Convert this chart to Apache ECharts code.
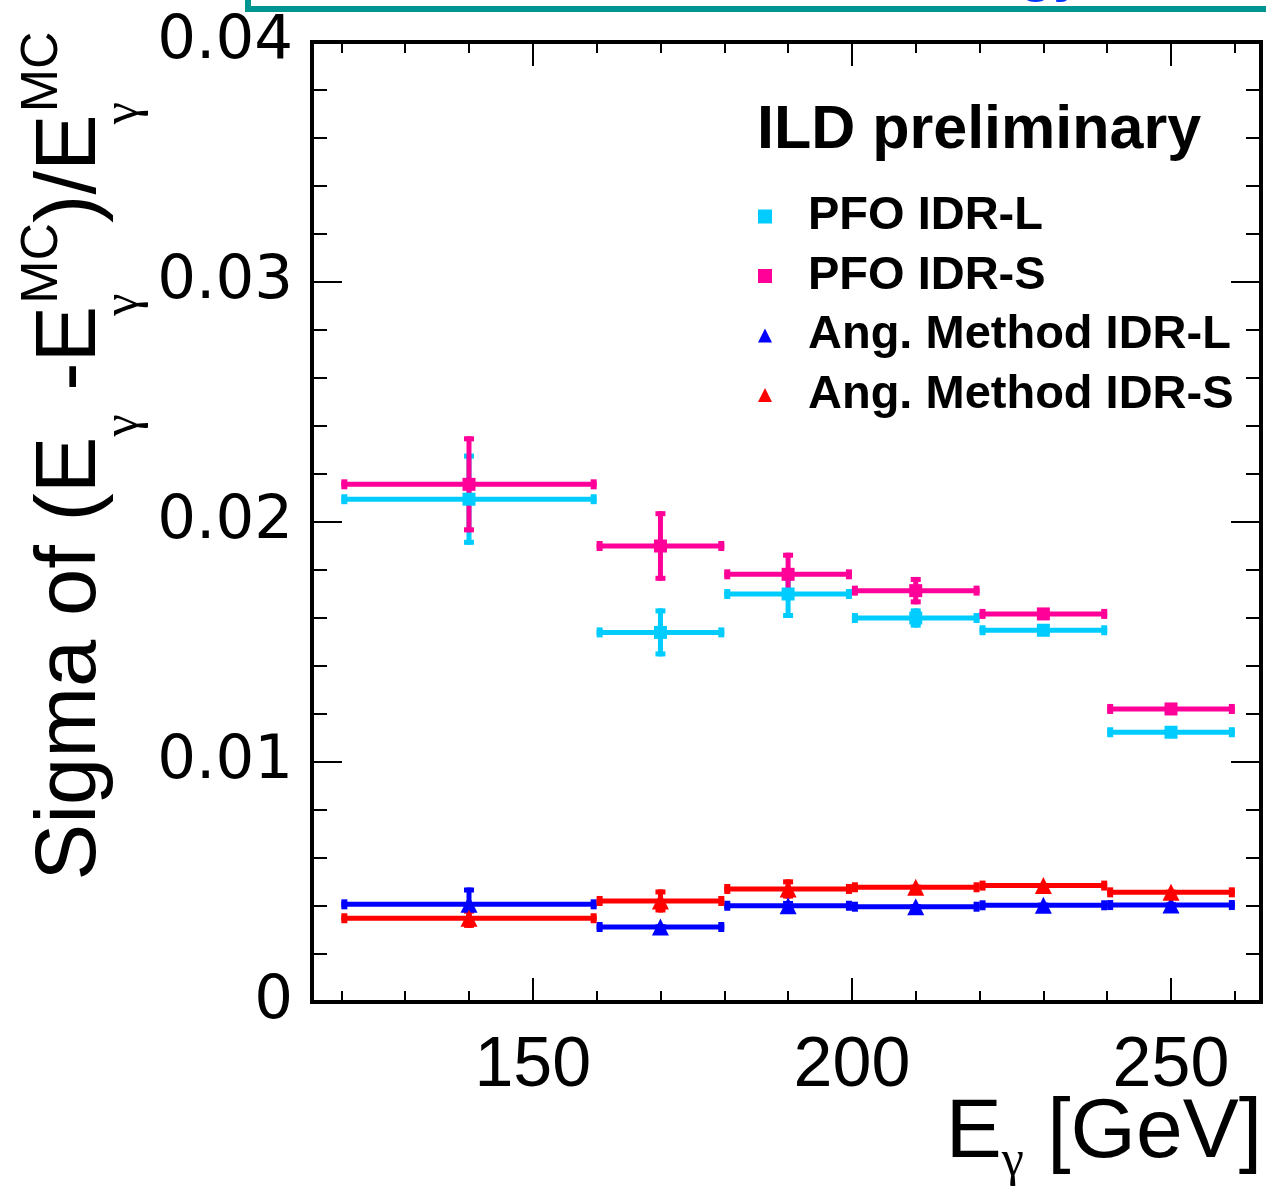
<!DOCTYPE html>
<html>
<head>
<meta charset="utf-8">
<script src="https://cdn.jsdelivr.net/npm/echarts@6/dist/echarts.min.js"></script>
<style>
html,body{margin:0;padding:0;background:#fff;}
#chart{width:1266px;height:1189px;}
</style>
</head>
<body>
<div id="chart"></div>
<script>
// ---- data ----
const binCenters = [140, 170, 190, 210, 230, 250];
const binLow     = [120, 160, 180, 200, 220, 240];
const binHigh    = [160, 180, 200, 220, 240, 260];

const pfoL    = [0.02095, 0.0154, 0.0170, 0.0160, 0.01549, 0.01124];
const pfoLErr = [0.0019, 0.0010, 0.0010, 0.0004, 0.0001, 0.0001];
const pfoS    = [0.02157, 0.0190, 0.01782, 0.01714, 0.01617, 0.01221];
const pfoSErr = [0.0020, 0.00145, 0.0009, 0.00057, 0.0002, 0.0001];
const angL    = [0.00407, 0.003125, 0.00401, 0.00397, 0.00403, 0.00404];
const angLErr = [0.0007, 0.0001, 0.0002, 0.0001, 0.0001, 0.0001];
const angS    = [0.00349, 0.00421, 0.00471, 0.00478, 0.00485, 0.00457];
const angSErr = [0.0004, 0.00048, 0.0004, 0.0001, 0.0001, 0.0001];

const seriesNames = ['PFO IDR-L', 'PFO IDR-S', 'Ang. Method IDR-L', 'Ang. Method IDR-S'];

const xMajorTicks = [150, 200, 250];
const xTickLabels = ['150', '200', '250'];
const xMinorTicks = [120, 130, 140, 150, 160, 170, 180, 190, 200, 210, 220, 230, 240, 250, 260];
const yTickLabels = ['0', '0.01', '0.02', '0.03', '0.04'];

// ---- chart ----
const X_MIN = 115.4, X_MAX = 264.1;
const SANS = 'Liberation Sans, Arial, Helvetica, sans-serif';
const tickStyle = { color: '#000', width: 2 };

function xAx(pos, major) {
  return {
    type: 'value', min: X_MIN, max: X_MAX, position: pos,
    axisLine: { show: false }, splitLine: { show: false },
    axisTick: { show: true, inside: true, length: major ? 24 : 11, lineStyle: tickStyle,
                customValues: major ? xMajorTicks : xMinorTicks },
    axisLabel: (major && pos === 'bottom') ? {
      show: true, customValues: xMajorTicks,
      formatter: v => xTickLabels[xMajorTicks.indexOf(v)] ?? '',
      fontSize: 70, fontFamily: SANS, color: '#000', margin: 30
    } : { show: false }
  };
}
function yAx(pos) {
  return {
    type: 'value', min: 0, max: 0.04, interval: 0.01, position: pos,
    axisLine: { show: false }, splitLine: { show: false }, minorSplitLine: { show: false },
    axisTick: { show: true, inside: true, length: 30, lineStyle: tickStyle },
    minorTick: { show: true, splitNumber: 5, length: 15, lineStyle: tickStyle },
    axisLabel: pos === 'left' ? {
      show: true, fontSize: 61, fontFamily: 'DejaVu Sans, sans-serif', color: '#000', margin: 19,
      formatter: v => yTickLabels[Math.round(v / 0.01)]
    } : { show: false }
  };
}

function errSeries(name, vals, errs, color) {
  return {
    type: 'custom', name: name + ' err', xAxisIndex: 0, yAxisIndex: 0,
    data: binCenters.map((c, i) => [c, vals[i], binLow[i], binHigh[i], errs[i]]),
    encode: { x: [0, 2, 3], y: 1 },
    silent: true,
    renderItem(params, api) {
      const c = api.value(0), v = api.value(1), lo = api.value(2), hi = api.value(3), e = api.value(4);
      const pL = api.coord([lo, v]), pR = api.coord([hi, v]);
      const pT = api.coord([c, v + e]), pB = api.coord([c, v - e]);
      const st = { stroke: color, lineWidth: 5, fill: null };
      const capH = { stroke: color, lineWidth: 6, fill: null };
      return {
        type: 'group',
        children: [
          { type: 'line', shape: { x1: pL[0], y1: pL[1], x2: pR[0], y2: pR[1] }, style: st },
          { type: 'line', shape: { x1: pL[0] + 3, y1: pL[1] - 5, x2: pL[0] + 3, y2: pL[1] + 5 }, style: capH },
          { type: 'line', shape: { x1: pR[0] - 3, y1: pR[1] - 5, x2: pR[0] - 3, y2: pR[1] + 5 }, style: capH },
          { type: 'line', shape: { x1: pT[0], y1: pT[1], x2: pB[0], y2: pB[1] }, style: st },
          { type: 'line', shape: { x1: pT[0] - 5, y1: pT[1] + 2.5, x2: pT[0] + 5, y2: pT[1] + 2.5 }, style: st },
          { type: 'line', shape: { x1: pB[0] - 5, y1: pB[1] - 2.5, x2: pB[0] + 5, y2: pB[1] - 2.5 }, style: st }
        ]
      };
    }
  };
}
function markSeries(name, vals, color, symbol, size) {
  return {
    type: 'scatter', name, xAxisIndex: 0, yAxisIndex: 0,
    data: binCenters.map((c, i) => [c, vals[i]]),
    symbol, symbolSize: size, itemStyle: { color, opacity: 1 }, silent: true
  };
}

const colors = ['#00ccff', '#ff0099', '#0000ff', '#ff0000'];

const yTitle = '{m|Sigma of (E}{b|γ}{m| -E}{b2|γ}{p|MC}{m|)/E}{b2|γ}{p|MC}';
const xTitle = '{m|E}{b|γ}{m| [GeV]}';

const option = {
  animation: false,
  backgroundColor: '#fff',
  grid: { left: 312, right: 5, top: 42, bottom: 187, show: true, borderColor: '#000', borderWidth: 4, backgroundColor: 'transparent' },
  xAxis: [xAx('bottom', true), xAx('bottom', false), xAx('top', true), xAx('top', false)],
  yAxis: [yAx('left'), yAx('right')],
  legend: {
    orient: 'vertical', left: 758, top: 193, padding: 0, itemWidth: 14, itemHeight: 14, itemGap: 12.5,
    selectedMode: false,
    data: [
      { name: seriesNames[0], icon: 'rect' },
      { name: seriesNames[1], icon: 'rect' },
      { name: seriesNames[2], icon: 'triangle' },
      { name: seriesNames[3], icon: 'triangle' }
    ],
    textStyle: { fontSize: 47, fontWeight: 'bold', fontFamily: SANS, color: '#000', lineHeight: 46, padding: [0, 0, 0, 31] }
  },
  series: [
    errSeries(seriesNames[0], pfoL, pfoLErr, colors[0]),
    markSeries(seriesNames[0], pfoL, colors[0], 'rect', 13),
    errSeries(seriesNames[1], pfoS, pfoSErr, colors[1]),
    markSeries(seriesNames[1], pfoS, colors[1], 'rect', 13),
    errSeries(seriesNames[2], angL, angLErr, colors[2]),
    markSeries(seriesNames[2], angL, colors[2], 'triangle', 17),
    errSeries(seriesNames[3], angS, angSErr, colors[3]),
    markSeries(seriesNames[3], angS, colors[3], 'triangle', 17)
  ],
  graphic: [
    { type: 'rect', shape: { x: 248, y: -60, width: 1100, height: 69 }, style: { fill: null, stroke: '#009591', lineWidth: 6 } },
    { type: 'text', x: 1019, y: 3, style: { text: 'gy', fontSize: 56, fontWeight: 'bold', fontFamily: SANS, fill: '#0033ff', verticalAlign: 'bottom' } },
    { type: 'text', x: 757, y: 131, style: { text: 'ILD preliminary', fontSize: 61, fontWeight: 'bold', fontFamily: SANS, fill: '#000', align: 'left', verticalAlign: 'middle' } },
    { type: 'text', x: 71.5, y: 456, rotation: Math.PI / 2,
      style: {
        text: yTitle, align: 'center', verticalAlign: 'middle', fill: '#000', fontFamily: SANS,
        rich: {
          m: { fontSize: 85, lineHeight: 154, fontFamily: SANS, fill: '#000' },
          b: { fontSize: 50, verticalAlign: 'bottom', fontFamily: 'Liberation Serif, serif', fill: '#000' },
          b2: { fontSize: 50, verticalAlign: 'bottom', width: 2, fontFamily: 'Liberation Serif, serif', fill: '#000' },
          p: { fontSize: 52, verticalAlign: 'top', padding: [22, 0, 0, 0], fontFamily: SANS, fill: '#000' }
        }
      } },
    { type: 'text', x: 1262, y: 1134,
      style: {
        text: xTitle, align: 'right', verticalAlign: 'middle', fill: '#000', fontFamily: SANS,
        rich: {
          m: { fontSize: 84, lineHeight: 106, fontFamily: SANS, fill: '#000' },
          b: { fontSize: 50, verticalAlign: 'bottom', fontFamily: 'Liberation Serif, serif', fill: '#000' }
        }
      } }
  ]
};

const chart = echarts.init(document.getElementById('chart'), null, { renderer: 'canvas' });
chart.setOption(option);
</script>
</body>
</html>
